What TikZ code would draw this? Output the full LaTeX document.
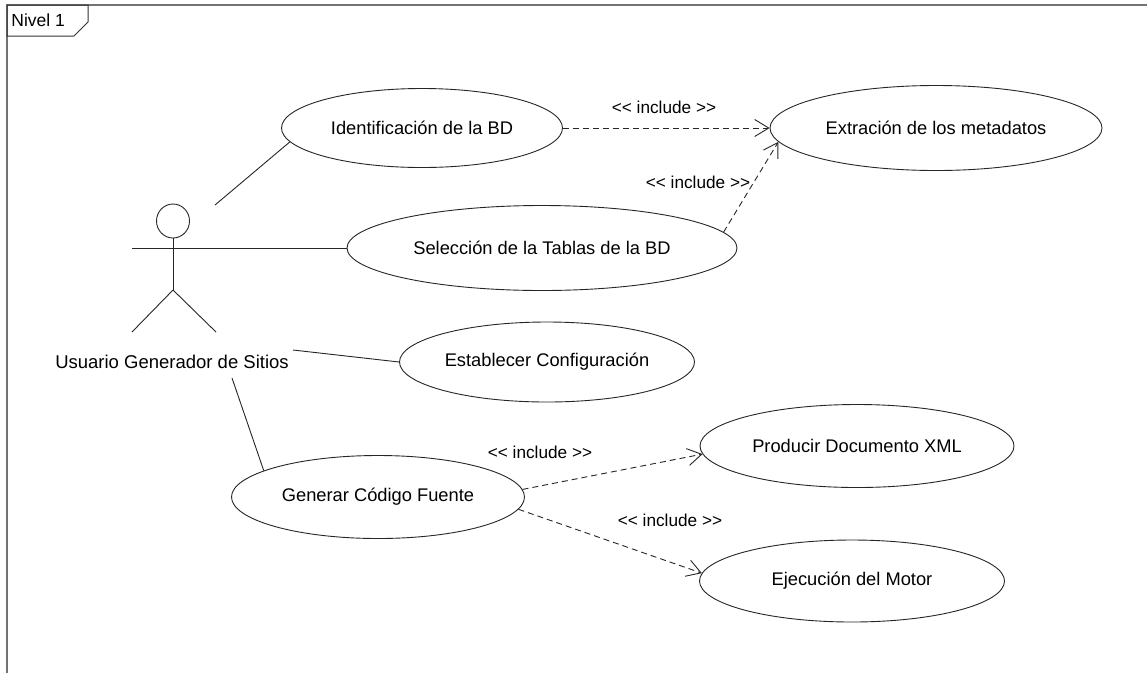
\documentclass[tikz,border=0pt]{standalone}
\usepackage{fontspec}
\setmainfont{Liberation Sans}
\usetikzlibrary{shapes.geometric,arrows.meta}
\newcommand{\inclabel}{<{}< include >{}>}
\begin{document}
\begin{tikzpicture}[x=1pt,y=-1pt,
  line width=0.9pt,
  usecase/.style={draw=black!85, ellipse, inner sep=0pt, font=\fontsize{18.3}{21}\selectfont},
  assoc/.style={draw=black!85},
  incl/.style={draw=black!85, dash pattern=on 6pt off 4pt, -{Straight Barb[length=14pt,width=17pt]}},
  stereo/.style={font=\fontsize{17.2}{20}\selectfont, inner sep=1pt},
  frameline/.style={draw=black!55, line width=1.2pt}
]
\useasboundingbox (0,0) rectangle (1147,673);
\fill[white] (0,0) rectangle (1147,673);

% package frame with its name tab
\draw[frameline] (7,673) -- (7,5) -- (1147,5);
\draw[draw=black!80, line width=1pt] (7,5) -- (88,5) -- (88,22) -- (74,36) -- (7,36) -- cycle;
\node[font=\fontsize{17.5}{20}\selectfont, anchor=west, inner sep=0pt] (tab) at (11,20) {Nivel 1};

% use cases
\node[usecase, minimum width=281pt, minimum height=79pt] (ident) at (422,128) {Identificación de la BD};
\node[usecase, minimum width=332pt, minimum height=85pt] (extr)  at (936,128) {Extración de los metadatos};
\node[usecase, minimum width=390pt, minimum height=85pt] (sel)   at (542,248) {Selección de la Tablas de la BD};
\node[usecase, minimum width=295pt, minimum height=80pt] (est)   at (547,362) {Establecer Configuración};
\node[usecase, minimum width=314pt, minimum height=83pt] (prod)  at (857,446) {Producir Documento XML};
\node[usecase, minimum width=293pt, minimum height=83pt] (gen)   at (378,497) {Generar Código Fuente};
\node[usecase, minimum width=305pt, minimum height=82pt] (ejec)  at (852,581) {Ejecución del Motor};

% actor
\node[draw=black!85, ellipse, minimum width=33pt, minimum height=34pt, inner sep=0pt] (head) at (173,221) {};
\coordinate (hip) at (173,290);
\coordinate (armL) at (132,248);
\draw[assoc] (head.south) -- (hip);
\draw[assoc] (hip) -- (132,332);
\draw[assoc] (hip) -- (216,332);
\node[font=\fontsize{18.5}{21}\selectfont, inner sep=0pt] (actor) at (172,362) {Usuario Generador de Sitios};

% associations
\coordinate (a1) at (215,205);
\coordinate (a3) at (293,350);
\coordinate (a4) at (232,378);
\draw[assoc] (a1) -- (ident.186);
\draw[assoc] (armL) -- (sel.west);
\draw[assoc] (a3) -- (est.west);
\draw[assoc] (a4) -- (gen.167);

% include dependencies
\draw[incl] (ident.east) -- (extr.west);
\node[stereo] (l1) at (664,107) {\inclabel};
\draw[incl] (sel.5) -- (extr.185);
\node[stereo] (l2) at (698,182) {\inclabel};
\draw[incl] (gen.3) -- (prod.183);
\node[stereo] (l3) at (540,452) {\inclabel};
\draw[incl] (gen.-5) -- (ejec.177);
\node[stereo] (l4) at (670,520) {\inclabel};
\end{tikzpicture}
\end{document}
